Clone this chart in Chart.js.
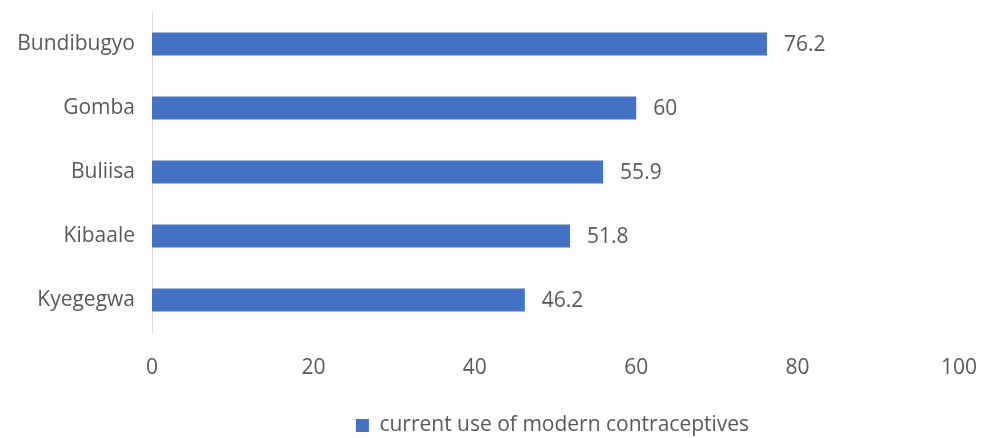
<!DOCTYPE html>
<html>
<head>
<meta charset="utf-8">
<script src="https://cdn.jsdelivr.net/npm/chart.js@4/dist/chart.umd.min.js"></script>
<style>
  body { margin: 0; background: #fff; }
  #wrap { width: 984px; height: 438px; }
</style>
</head>
<body>
<div id="wrap"><canvas id="myChart" width="984" height="438"></canvas></div>
<script>
const districts = ['Bundibugyo', 'Gomba', 'Buliisa', 'Kibaale', 'Kyegegwa']
const modernUse = [76.2, 60, 55.9, 51.8, 46.2]
const seriesName = 'current use of modern contraceptives'
const xTicks = [0, 20, 40, 60, 80, 100]

const textColor = '#595959'
const fontFamily = '"Open Sans", "Noto Sans", sans-serif'
const fontSize = 21

// labels at the end of each bar
const barLabels = {
  id: 'barLabels',
  afterDatasetsDraw(chart) {
    const ctx = chart.ctx
    const meta = chart.getDatasetMeta(0)
    ctx.save()
    ctx.fillStyle = textColor
    ctx.font = fontSize + 'px ' + fontFamily
    ctx.textAlign = 'left'
    ctx.textBaseline = 'middle'
    meta.data.forEach((bar, i) => {
      ctx.fillText(String(modernUse[i]), bar.x + 17, bar.y + 1)
    })
    ctx.restore()
  }
}

// center the legend under the plot area instead of the whole canvas
const legendUnderPlot = {
  id: 'legendUnderPlot',
  afterLayout(chart) {
    const lg = chart.legend
    const shift = (chart.chartArea.left + chart.chartArea.right) / 2 - (lg.left + lg.right) / 2 - 3
    lg.left += shift
    lg.right += shift
  }
}

const ctx = document.getElementById('myChart')

const myChart = new Chart(ctx, {
  type: 'bar',
  data: {
    labels: districts,
    datasets: [
      {
        label: seriesName,
        data: modernUse,
        backgroundColor: '#4472C4',
        borderWidth: 0,
        categoryPercentage: 0.36,
        barPercentage: 1
      }
    ]
  },
  options: {
    indexAxis: 'y',
    responsive: false,
    animation: false,
    layout: { padding: { top: 12, right: 25, bottom: 0, left: 0 } },
    scales: {
      x: {
        min: 0,
        max: 100,
        afterBuildTicks: (scale) => { scale.ticks = xTicks.map(v => ({ value: v })) },
        grid: { display: false, drawTicks: false },
        border: { display: false },
        ticks: { color: textColor, font: { family: fontFamily, size: fontSize }, padding: 23 },
        afterFit: (scale) => {
          scale.height = 79
          scale.paddingLeft = 0
          scale.paddingRight = 0
        }
      },
      y: {
        grid: { display: false, drawTicks: false },
        border: { display: true, color: '#D9D9D9', width: 1 },
        ticks: { color: textColor, font: { family: fontFamily, size: fontSize }, padding: 17 },
        afterFit: (scale) => {
          scale.width = 152
          scale.paddingTop = 0
          scale.paddingBottom = 0
        }
      }
    },
    plugins: {
      legend: {
        position: 'bottom',
        maxHeight: 27,
        labels: {
          color: textColor,
          font: { family: fontFamily, size: fontSize },
          boxWidth: 13,
          boxHeight: 13,
          padding: 4
        }
      },
      tooltip: { enabled: false }
    }
  },
  plugins: [barLabels, legendUnderPlot]
})
</script>
</body>
</html>
